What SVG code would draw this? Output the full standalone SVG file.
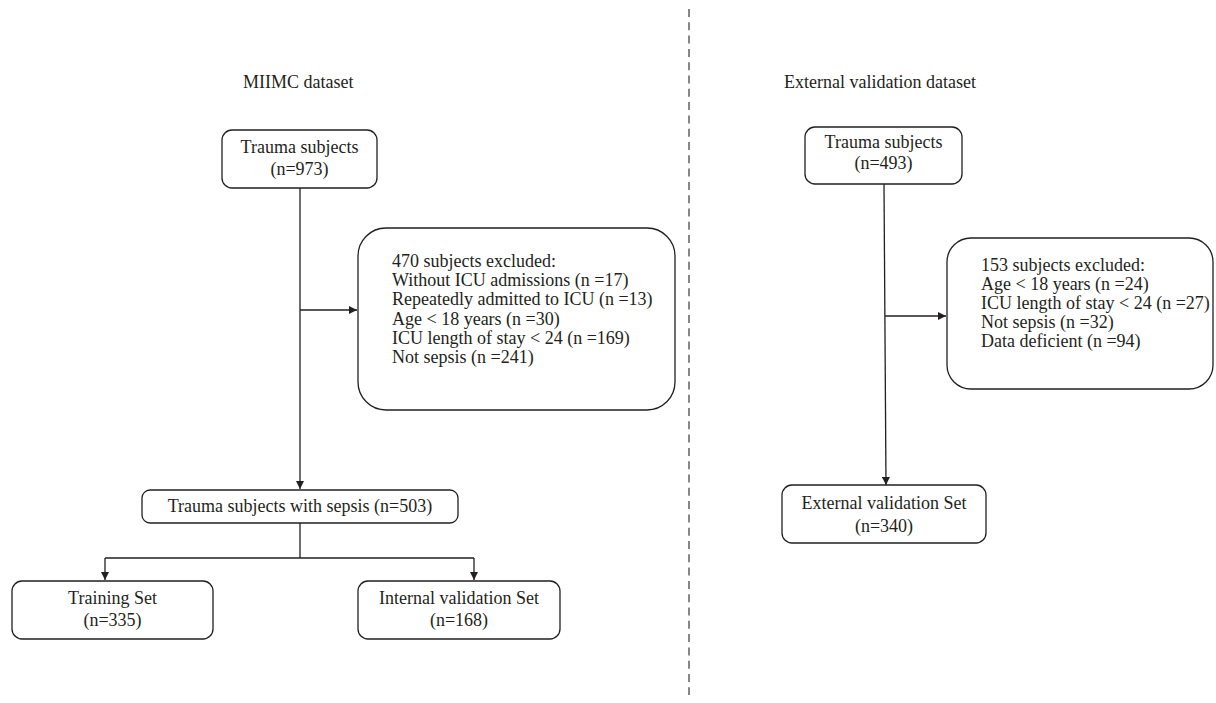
<svg xmlns="http://www.w3.org/2000/svg" width="1216" height="703" viewBox="0 0 1216 703">
<defs>
<style>
text{font-family:"Liberation Serif","Times New Roman",serif;font-size:18px;fill:#231f20}
.c{text-anchor:middle}
.box{fill:#fff;stroke:#231f20;stroke-width:1.3}
.ln{fill:none;stroke:#231f20;stroke-width:1.3}
</style>
<marker id="ah" viewBox="0 0 10 10" refX="10" refY="5" markerWidth="8" markerHeight="8" markerUnits="userSpaceOnUse" orient="auto">
<path d="M0,0 L10,5 L0,10 z" fill="#231f20"/>
</marker>
</defs>
<rect width="1216" height="703" fill="#fff"/>
<line x1="689" y1="9" x2="689" y2="695" stroke="#555" stroke-width="1.4" stroke-dasharray="8 5.3"/>
<text id="title1" x="243" y="88">MIIMC dataset</text>
<text id="title2" x="784" y="88">External validation dataset</text>
<g id="connectors">
<line class="ln" x1="300" y1="188" x2="300" y2="489" marker-end="url(#ah)"/>
<line class="ln" x1="300" y1="310" x2="357" y2="310" marker-end="url(#ah)"/>
<polyline class="ln" points="300,523 300,558"/>
<polyline class="ln" points="105,558 474,558"/>
<line class="ln" x1="105" y1="558" x2="105" y2="580" marker-end="url(#ah)"/>
<line class="ln" x1="474" y1="558" x2="474" y2="580" marker-end="url(#ah)"/>
<line class="ln" x1="884" y1="184" x2="886" y2="485" marker-end="url(#ah)"/>
<line class="ln" x1="885" y1="316" x2="946" y2="316" marker-end="url(#ah)"/>
</g>
<g id="trauma1">
<rect class="box" x="222" y="130" width="155" height="58" rx="10"/>
<text class="c" x="299.5" y="153">Trauma subjects</text>
<text class="c" x="299.5" y="175">(n=973)</text>
</g>
<g id="excl1">
<rect class="box" x="358" y="228" width="317" height="182" rx="28"/>
<text x="392" y="267">470 subjects excluded:</text>
<text x="392" y="286">Without ICU admissions (n =17)</text>
<text x="392" y="305">Repeatedly admitted to ICU (n =13)</text>
<text x="392" y="324.5">Age &lt; 18 years (n =30)</text>
<text x="392" y="343.5">ICU length of stay &lt; 24 (n =169)</text>
<text x="392" y="363">Not sepsis (n =241)</text>
</g>
<g id="sepsis">
<rect class="box" x="142" y="490" width="316" height="33" rx="8"/>
<text class="c" x="300" y="512">Trauma subjects with sepsis (n=503)</text>
</g>
<g id="training">
<rect class="box" x="12" y="581" width="201" height="58" rx="10"/>
<text class="c" x="112.5" y="604">Training Set</text>
<text class="c" x="112.5" y="626">(n=335)</text>
</g>
<g id="internal">
<rect class="box" x="358" y="581" width="202" height="58" rx="10"/>
<text class="c" x="459" y="604">Internal validation Set</text>
<text class="c" x="459" y="626">(n=168)</text>
</g>
<g id="trauma2">
<rect class="box" x="805" y="127" width="157" height="57" rx="10"/>
<text class="c" x="883.5" y="148">Trauma subjects</text>
<text class="c" x="883.5" y="169">(n=493)</text>
</g>
<g id="excl2">
<rect class="box" x="947" y="238" width="266" height="151" rx="24"/>
<text x="981" y="271">153 subjects excluded:</text>
<text x="981" y="290">Age &lt; 18 years (n =24)</text>
<text x="981" y="309">ICU length of stay &lt; 24 (n =27)</text>
<text x="981" y="328">Not sepsis (n =32)</text>
<text x="981" y="347">Data deficient (n =94)</text>
</g>
<g id="external">
<rect class="box" x="782" y="485" width="204" height="58" rx="10"/>
<text class="c" x="884" y="509">External validation Set</text>
<text class="c" x="884" y="532">(n=340)</text>
</g>
</svg>
